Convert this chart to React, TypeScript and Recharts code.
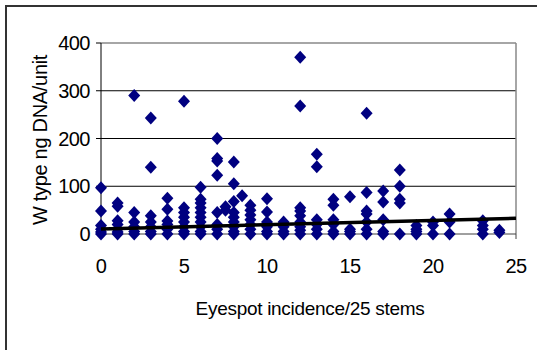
import { ReferenceLine, Scatter, ScatterChart, XAxis, YAxis } from 'recharts';

// eyespot incidence (per 25 stems) and the W-type DNA readings seen at each one
const incidence = [0, 1, 2, 3, 4, 5, 6, 7, 7.5, 8, 8.5, 9, 10, 11, 12, 13, 14, 15, 16, 17, 18, 19, 20, 21, 23, 24];
const dnaByIncidence = [
  [97, 48, 18, 10, 4, 0],
  [65, 58, 28, 20, 10, 4, 0],
  [290, 45, 25, 15, 5, 0],
  [243, 140, 38, 25, 15, 5, 0],
  [75, 52, 27, 20, 10, 0],
  [278, 55, 45, 35, 25, 15, 5, 0],
  [98, 73, 65, 55, 45, 35, 25, 15, 5, 0],
  [200, 158, 153, 123, 45, 20, 10, 0],
  [57, 50],
  [151, 105, 68, 45, 35, 25, 15, 5, 0],
  [80],
  [60, 50, 40, 30, 20, 10, 0],
  [74, 46, 25, 15, 5, 0],
  [25, 15, 5, 0],
  [370, 268, 55, 48, 38, 25, 15, 8, 0],
  [167, 141, 30, 20, 10, 0],
  [73, 60, 30, 20, 5, 0],
  [78, 10, 5, 0],
  [253, 87, 48, 42, 25, 10, 0],
  [90, 67, 30, 5, 0],
  [134, 100, 73, 65, 0],
  [18, 10, 5, 0],
  [25, 18, 0],
  [42, 25, 0],
  [28, 18, 10, 0],
  [8, 3],
];

// linear trendline end points
const trendX = [0, 25];
const trendY = [10.5, 33];

const xTicks = [0, 5, 10, 15, 20, 25];
const yTicks = [0, 100, 200, 300, 400];
const gridValues = [100, 200, 300];

const points = incidence.flatMap((x, i) => dnaByIncidence[i].map((y) => ({ x, y })));
const trend = trendX.map((x, i) => ({ x, y: trendY[i] }));

const font = '"Liberation Sans", Arial, sans-serif';

function Diamond(props: any) {
  const { cx, cy } = props;
  if (cx == null || cy == null) return null;
  return (
    <polygon
      points={`${cx},${cy - 6.5} ${cx + 6},${cy} ${cx},${cy + 6.5} ${cx - 6},${cy}`}
      fill="#000080"
    />
  );
}

const YTitle = () => (
  <text
    x={40}
    y={140}
    transform="rotate(-90 40 140)"
    textAnchor="middle"
    dominantBaseline="central"
    fontSize={20}
    letterSpacing={-0.3}
    fontFamily={font}
    fill="#000"
  >
    W type ng DNA/unit
  </text>
);

const XTitle = () => (
  <text
    x={310}
    y={308}
    textAnchor="middle"
    dominantBaseline="central"
    fontSize={19}
    letterSpacing={-0.3}
    fontFamily={font}
    fill="#000"
  >
    Eyespot incidence/25 stems
  </text>
);

export default function App() {
  return (
    <div style={{ position: 'absolute', left: 0, top: 0, width: 540, height: 350, background: '#fff' }}>
      <div
        style={{
          position: 'absolute',
          left: 5,
          top: 5,
          width: 530,
          height: 360,
          borderLeft: '2px solid #333',
          borderTop: '2px solid #333',
        }}
      />
      <ScatterChart width={540} height={350} margin={{ top: 43, right: 24, bottom: 56, left: 0 }}>
        <XAxis
          type="number"
          dataKey="x"
          domain={[0, 25]}
          ticks={xTicks}
          interval={0}
          height={60}
          stroke="#404040"
          tickSize={5}
          tickMargin={20}
          tick={{ fill: '#000', fontSize: 20, fontFamily: font, letterSpacing: -0.5 }}
          label={<XTitle />}
        />
        <YAxis
          type="number"
          dataKey="y"
          domain={[0, 400]}
          ticks={yTicks}
          interval={0}
          width={101}
          stroke="#000"
          tickSize={5}
          tickMargin={6}
          tick={{ fill: '#000', fontSize: 20, fontFamily: font, letterSpacing: -0.5 }}
          label={<YTitle />}
        />
        {gridValues.map((v) => (
          <ReferenceLine key={v} y={v} stroke="#000" strokeWidth={1} />
        ))}
        <ReferenceLine y={400} stroke="#888" strokeWidth={1.5} />
        <ReferenceLine x={25} stroke="#888" strokeWidth={1.5} />
        <Scatter data={points} shape={<Diamond />} isAnimationActive={false} />
        <Scatter
          data={trend}
          line={{ stroke: '#000', strokeWidth: 3.5 }}
          shape={() => null}
          isAnimationActive={false}
        />
      </ScatterChart>
    </div>
  );
}
